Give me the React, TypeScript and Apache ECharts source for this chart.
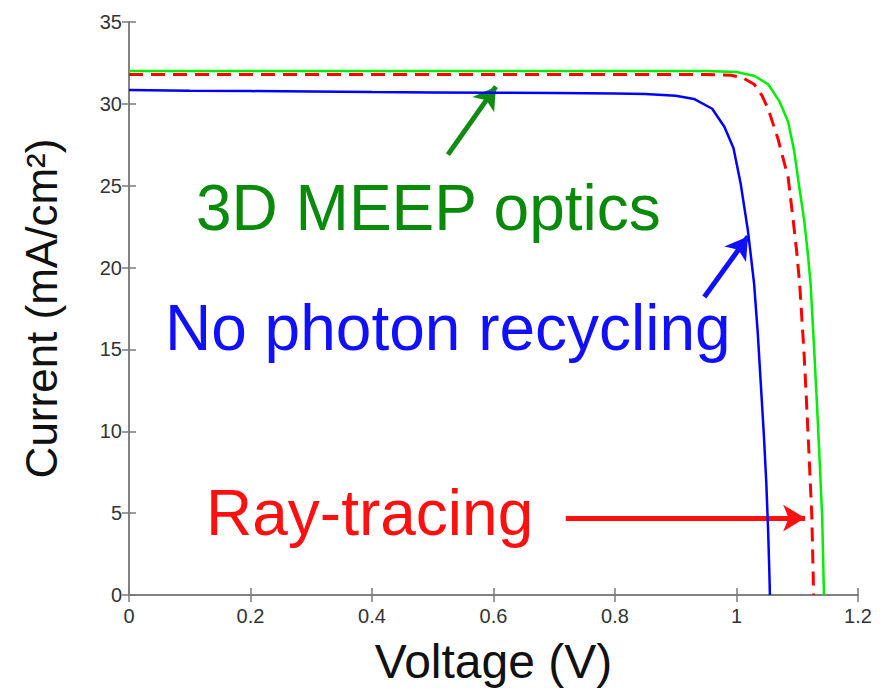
import React, { useEffect, useRef } from "react";
import * as echarts from "echarts";

// Voltage (V), Current (mA/cm^2) pairs
const meepOptics: [number, number][] = [
  [0, 32.0], [0.2, 32.0], [0.4, 32.0], [0.6, 32.0], [0.8, 32.0], [0.95, 32.0],
  [1.0, 31.95], [1.03, 31.7], [1.052, 31.2], [1.07, 30.2], [1.085, 28.9],
  [1.095, 27.1], [1.103, 25.0], [1.111, 23.0], [1.117, 21.0], [1.122, 19.0],
  [1.128, 14.9], [1.132, 12.0], [1.136, 8.9], [1.141, 4.8], [1.144, 0],
];
const rayTracing: [number, number][] = [
  [0, 31.8], [0.2, 31.8], [0.4, 31.8], [0.6, 31.8], [0.8, 31.8], [0.95, 31.8],
  [0.991, 31.75], [1.01, 31.6], [1.029, 31.2], [1.042, 30.5], [1.052, 29.7],
  [1.068, 27.9], [1.085, 25.5], [1.093, 23.0], [1.099, 21.0], [1.104, 19.0],
  [1.111, 14.9], [1.115, 12.0], [1.119, 8.9], [1.124, 4.8], [1.127, 0],
];
const noRecycling: [number, number][] = [
  [0, 30.85], [0.1, 30.8], [0.2, 30.78], [0.3, 30.75], [0.4, 30.72], [0.5, 30.7],
  [0.6, 30.68], [0.7, 30.66], [0.8, 30.63], [0.85, 30.6], [0.9, 30.5],
  [0.93, 30.3], [0.96, 29.7], [0.98, 28.6], [0.995, 27.3], [1.007, 25.1],
  [1.019, 22.2], [1.029, 19.0], [1.035, 16.0], [1.04, 12.9], [1.045, 9.8],
  [1.049, 6.9], [1.052, 4.0], [1.054, 1.5], [1.055, 0],
];

const xTicks = { min: 0, max: 1.2, interval: 0.2 };
const yTicks = { min: 0, max: 35, interval: 5 };

// Annotation arrows: [tail, tip] in data coordinates
const meepArrow: [number, number][] = [[0.525, 26.9], [0.604, 31.05]];
const recyclingArrow: [number, number][] = [[0.947, 18.2], [1.019, 21.9]];
const rayArrow: [number, number][] = [[0.719, 4.7], [1.113, 4.7]];

const labels = [
  { text: "3D MEEP optics", x: 196, y: 208, color: "#0a8a0a" },
  { text: "No photon recycling", x: 165, y: 328, color: "#1010ff" },
  { text: "Ray-tracing", x: 206, y: 513, color: "#ff1010" },
];

const FONT = "'Liberation Sans', Arial, Helvetica, sans-serif";

function arrowLine(pts: [number, number][], color: string) {
  return {
    silent: true,
    animation: false,
    symbol: ["none", "arrow"],
    symbolSize: [20, 22],
    label: { show: false },
    lineStyle: { color, width: 5, type: "solid" },
    data: [[{ coord: pts[0] }, { coord: pts[1] }]],
  };
}

export default function App() {
  const ref = useRef<HTMLDivElement>(null);
  useEffect(() => {
    if (!ref.current) return;
    const chart = echarts.init(ref.current, undefined, { renderer: "svg" });
    const axisColor = "#7a7a7a";
    const baseAxis = {
      axisLine: { show: true, lineStyle: { color: axisColor, width: 1.5 } },
      axisTick: { show: true, inside: true, length: 7, lineStyle: { color: axisColor, width: 1.5 } },
      splitLine: { show: false },
    };
    chart.setOption({
      animation: false,
      backgroundColor: "#ffffff",
      grid: { left: 129, right: 25, top: 22, bottom: 97, containLabel: false },
      xAxis: [
        {
          type: "value",
          ...xTicks,
          ...baseAxis,
          name: "Voltage (V)",
          nameLocation: "middle",
          nameGap: 42,
          nameTextStyle: { fontFamily: FONT, fontSize: 48, color: "#111" },
          axisLabel: {
            fontFamily: FONT, fontSize: 20, color: "#333", margin: 11,
            formatter: (v: number) => String(Math.round(v * 10) / 10),
          },
        },
        {
          type: "value",
          position: "top",
          ...xTicks,
          ...baseAxis,
          axisLabel: { show: false },
        },
      ],
      yAxis: [
        {
          type: "value",
          ...yTicks,
          ...baseAxis,
          name: "Current (mA/cm²)",
          nameLocation: "middle",
          nameGap: 66,
          nameTextStyle: { fontFamily: FONT, fontSize: 44, color: "#111" },
          axisLabel: { fontFamily: FONT, fontSize: 20, color: "#333", margin: 7 },
        },
        {
          type: "value",
          position: "right",
          ...yTicks,
          ...baseAxis,
          axisLabel: { show: false },
        },
      ],
      series: [
        {
          name: "3D MEEP optics",
          type: "line",
          data: meepOptics,
          showSymbol: false,
          symbol: "none",
          lineStyle: { color: "#00ee00", width: 2.5 },
          z: 3,
          markLine: arrowLine(meepArrow, "#138a13"),
        },
        {
          name: "Ray-tracing",
          type: "line",
          data: rayTracing,
          showSymbol: false,
          symbol: "none",
          lineStyle: { color: "#ff0000", width: 3, type: [14, 8] },
          z: 4,
          markLine: arrowLine(rayArrow, "#ff1010"),
        },
        {
          name: "No photon recycling",
          type: "line",
          data: noRecycling,
          showSymbol: false,
          symbol: "none",
          lineStyle: { color: "#0000ff", width: 2.5 },
          z: 5,
          markLine: arrowLine(recyclingArrow, "#1010ff"),
        },
      ],
      graphic: labels.map((l) => ({
        type: "text",
        x: l.x,
        y: l.y,
        silent: true,
        style: {
          text: l.text,
          fill: l.color,
          font: `64px ${FONT}`,
          align: "left",
          verticalAlign: "middle",
        },
      })),
    });
    return () => chart.dispose();
  }, []);
  return (
    <div
      ref={ref}
      style={{ position: "absolute", left: 0, top: 0, width: 883, height: 692 }}
    />
  );
}
